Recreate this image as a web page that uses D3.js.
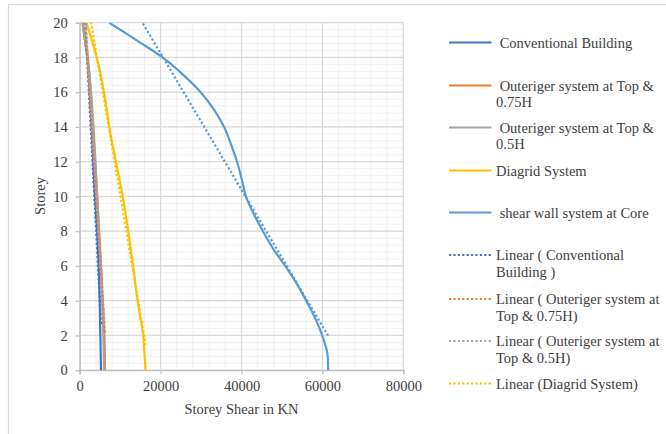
<!DOCTYPE html>
<html>
<head>
<meta charset="utf-8">
<script src="https://cdn.jsdelivr.net/npm/d3@7"></script>
<style>
body { margin: 0; background: #fff; }
svg { font-family: "Liberation Serif", "Times New Roman", serif; }
</style>
</head>
<body>
<svg id="chart" width="666" height="434"></svg>
<script>
var storeys = [0, 1, 2, 3, 4, 5, 6, 7, 8, 9, 10, 11, 12, 13, 14, 15, 16, 17, 18, 19, 20];
// storey shear in KN, storey 0 .. 20
var conventional = [5260, 5180, 5100, 5020, 4940, 4820, 4700, 4500, 4300, 4050, 3780, 3550, 3350, 3150, 2950, 2700, 2450, 2200, 1900, 1300, 700];
var outrigger075 = [6250, 6200, 6100, 5900, 5700, 5500, 5300, 5050, 4800, 4550, 4300, 4050, 3800, 3550, 3300, 3000, 2700, 2350, 1900, 1300, 800];
var outrigger05 = [6000, 5950, 5850, 5700, 5550, 5380, 5200, 4980, 4760, 4560, 4350, 4120, 3900, 3650, 3400, 3120, 2820, 2450, 2000, 1400, 700];
var diagrid = [16300, 16000, 15700, 15000, 14300, 13750, 13200, 12600, 12000, 11350, 10650, 9800, 8950, 8100, 7300, 6700, 6000, 5200, 4200, 3000, 1700];
var shearWall = [61400, 61200, 59950, 58200, 56000, 53600, 50800, 47800, 45300, 43000, 41100, 40050, 38900, 37400, 35700, 33200, 29900, 25600, 20500, 14000, 7300];

var xTicks = [0, 20000, 40000, 60000, 80000];
var yTicks = [0, 2, 4, 6, 8, 10, 12, 14, 16, 18, 20];

var series = [
    {name: " Conventional Building", values: conventional, color: "#4472C4"},
    {name: " Outeriger system at Top & 0.75H", values: outrigger075, color: "#ED7D31"},
    {name: " Outeriger system at Top & 0.5H", values: outrigger05, color: "#A5A5A5"},
    {name: "Diagrid System", values: diagrid, color: "#FFC000"},
    {name: " shear wall system at Core", values: shearWall, color: "#5B9BD5"}
];

var legendRows = [
    {lines: [" Conventional Building"], y: 42.5, color: "#4472C4", dot: false},
    {lines: [" Outeriger system at Top &", "0.75H"], y: 85.5, color: "#ED7D31", dot: false},
    {lines: [" Outeriger system at Top &", "0.5H"], y: 127.5, color: "#A5A5A5", dot: false},
    {lines: ["Diagrid System"], y: 170.5, color: "#FFC000", dot: false},
    {lines: [" shear wall system at Core"], y: 212.5, color: "#5B9BD5", dot: false},
    {lines: ["Linear ( Conventional", "Building )"], y: 255, color: "#4472C4", dot: true},
    {lines: ["Linear ( Outeriger system at", "Top & 0.75H)"], y: 299, color: "#ED7D31", dot: true},
    {lines: ["Linear ( Outeriger system at", "Top & 0.5H)"], y: 341, color: "#A5A5A5", dot: true},
    {lines: ["Linear (Diagrid System)"], y: 383.5, color: "#FFC000", dot: true}
];

var margin = {top: 22.7, left: 79.7};
var svg = d3.select("#chart");
var width = 403.3 - margin.left;
var height = 370.2 - margin.top;

// chart frame
svg.append("rect").attr("x", 8.5).attr("y", 4.5).attr("width", 670).attr("height", 440)
    .attr("fill", "#fff").attr("stroke", "#d9d9d9").attr("stroke-width", 1.2);

var x = d3.scaleLinear().domain([0, 80000]).range([0, width]);
var y = d3.scaleLinear().domain([0, 20]).range([height, 0]);

var g = svg.append("g").attr("transform", "translate(" + margin.left + "," + margin.top + ")");

g.append("clipPath").attr("id", "plotClip").append("rect")
    .attr("x", -2).attr("y", 0).attr("width", width + 4).attr("height", height);

// minor gridlines
g.append("g").selectAll("line").data(d3.range(0, 80001, 4000)).enter().append("line")
    .attr("x1", function(d) { return x(d); }).attr("x2", function(d) { return x(d); })
    .attr("y1", 0).attr("y2", height).attr("stroke", "#f0f0f0").attr("stroke-width", 1);
g.append("g").selectAll("line").data(d3.range(0, 20.01, 0.4)).enter().append("line")
    .attr("y1", function(d) { return y(d); }).attr("y2", function(d) { return y(d); })
    .attr("x1", 0).attr("x2", width).attr("stroke", "#f0f0f0").attr("stroke-width", 1);

// major gridlines
g.append("g").selectAll("line").data(xTicks).enter().append("line")
    .attr("x1", function(d) { return x(d); }).attr("x2", function(d) { return x(d); })
    .attr("y1", 0).attr("y2", height).attr("stroke", "#d9d9d9").attr("stroke-width", 1.2);
g.append("g").selectAll("line").data(yTicks).enter().append("line")
    .attr("y1", function(d) { return y(d); }).attr("y2", function(d) { return y(d); })
    .attr("x1", 0).attr("x2", width).attr("stroke", "#d9d9d9").attr("stroke-width", 1.2);

var xAxis = g.append("g").attr("transform", "translate(0," + height + ")")
    .call(d3.axisBottom(x).tickValues(xTicks).tickSize(4).tickPadding(7).tickFormat(d3.format("d")));
var yAxis = g.append("g")
    .call(d3.axisLeft(y).tickValues(yTicks).tickSize(4).tickPadding(8).tickFormat(d3.format("d")));
[xAxis, yAxis].forEach(function(a) {
    a.select(".domain").attr("stroke", "#bfbfbf").attr("stroke-width", 1.2);
    a.selectAll(".tick line").attr("stroke", "#bfbfbf").attr("stroke-width", 1.2);
    a.selectAll(".tick text").attr("fill", "#404040").style("font-size", "14.5px")
        .style("font-family", "'Liberation Serif', serif");
});

var line = d3.line()
    .x(function(d) { return x(d[0]); })
    .y(function(d) { return y(d[1]); })
    .curve(d3.curveCatmullRom);

var plot = g.append("g").attr("clip-path", "url(#plotClip)");

series.forEach(function(s) {
    var pts = s.values.map(function(v, i) { return [v, storeys[i]]; });
    plot.append("path").attr("d", line(pts)).attr("fill", "none")
        .attr("stroke", s.color).attr("stroke-width", 2.2);
});

// linear trendlines, storey fitted against shear, like the spreadsheet does
function fitLine(xs, ys) {
    var mx = d3.mean(xs), my = d3.mean(ys);
    var sxy = d3.sum(xs, function(v, i) { return (v - mx) * (ys[i] - my); });
    var sxx = d3.sum(xs, function(v) { return (v - mx) * (v - mx); });
    var b = sxy / sxx;
    return function(v) { return my + b * (v - mx); };
}
series.forEach(function(s) {
    var f = fitLine(s.values, storeys);
    var lo = d3.min(s.values), hi = d3.max(s.values);
    plot.append("path").attr("d", d3.line()([[x(lo), y(f(lo))], [x(hi), y(f(hi))]]))
        .attr("fill", "none").attr("stroke", s.color).attr("stroke-width", 2.2)
        .attr("stroke-dasharray", "2.2,2.2");
});

// axis titles
svg.append("text").attr("x", 241.5).attr("y", 414).attr("text-anchor", "middle")
    .style("font-size", "14.5px").attr("fill", "#404040").text("Storey Shear in KN");
svg.append("text").attr("transform", "translate(45,196) rotate(-90)").attr("text-anchor", "middle")
    .style("font-size", "14.5px").attr("fill", "#404040").text("Storey");

// legend
var legend = svg.append("g");
legendRows.forEach(function(r) {
    legend.append("line").attr("x1", 449).attr("x2", 491.5).attr("y1", r.y).attr("y2", r.y)
        .attr("stroke", r.color).attr("stroke-width", 2.2)
        .attr("stroke-dasharray", r.dot ? "2.2,2.2" : null);
    var t = legend.append("text").attr("x", 496).attr("y", r.y + 5)
        .style("font-size", "14.5px").attr("fill", "#404040").attr("xml:space", "preserve");
    r.lines.forEach(function(s, i) {
        t.append("tspan").attr("x", 496).attr("dy", i == 0 ? 0 : 16.7).text(s);
    });
});
</script>
</body>
</html>
